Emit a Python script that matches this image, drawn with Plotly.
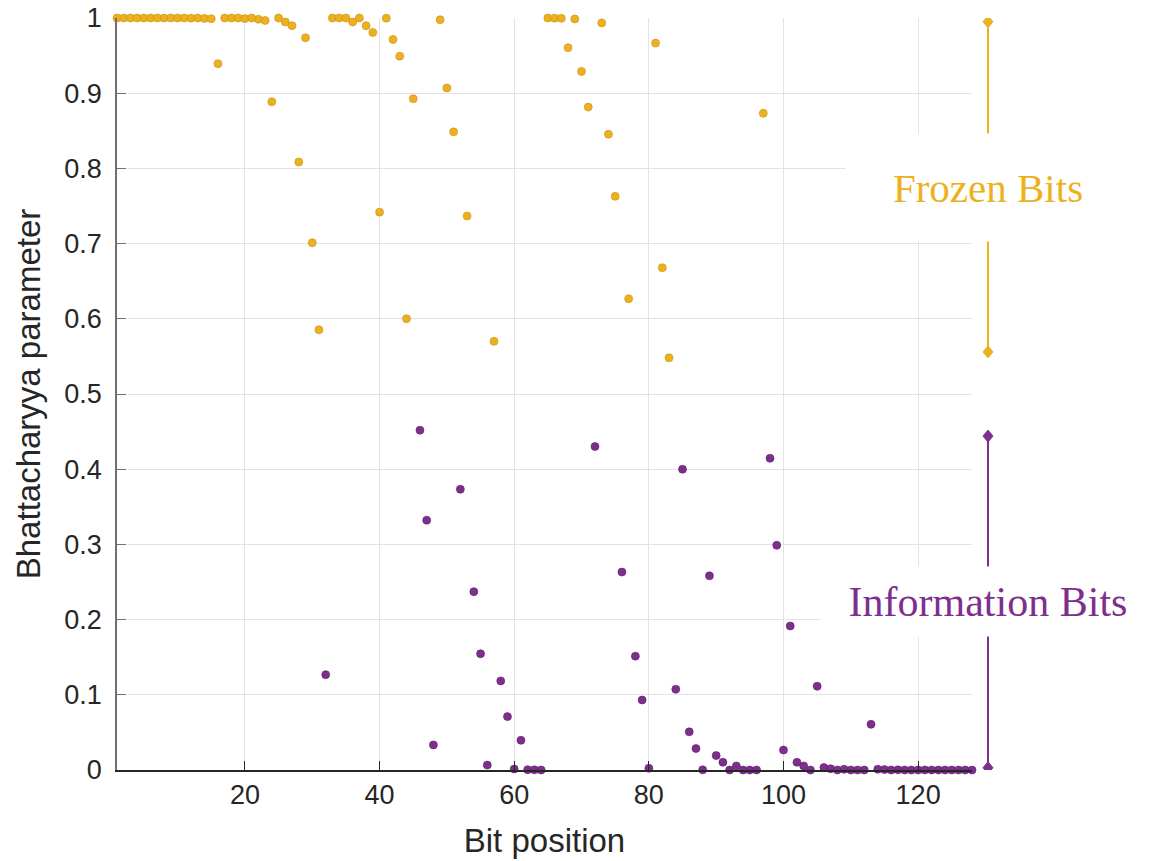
import plotly.graph_objects as go

# Bhattacharyya parameter of each synthetic channel, bit positions 1..128
bit_position = list(range(1, 129))
bhattacharyya = [
    1.0, 1.0, 1.0, 1.0, 1.0, 1.0, 1.0, 0.9999,
    1.0, 1.0, 1.0, 0.9998, 1.0, 0.9995, 0.9991, 0.9393,
    1.0, 1.0, 1.0, 0.9992, 1.0, 0.9983, 0.9967, 0.8886,
    1.0, 0.9947, 0.9898, 0.8085, 0.9736, 0.7012, 0.5854, 0.1268,
    1.0, 1.0, 1.0, 0.9947, 1.0, 0.9897, 0.9808, 0.7418,
    0.9998, 0.9715, 0.9492, 0.6001, 0.8926, 0.4519, 0.3321, 0.0334,
    0.9977, 0.9069, 0.8486, 0.3733, 0.7368, 0.2372, 0.1546, 0.0065,
    0.5700, 0.1185, 0.0710, 0.0013, 0.0395, 0.0004, 0.0002, 0.0,
    1.0, 0.9998, 0.9996, 0.9605, 0.9987, 0.9290, 0.8815, 0.4301,
    0.9935, 0.8454, 0.7628, 0.2632, 0.6267, 0.1514, 0.0931, 0.0023,
    0.9666, 0.6679, 0.5481, 0.1074, 0.3999, 0.0508, 0.0285, 0.0002,
    0.2582, 0.0192, 0.0103, 0.0, 0.0054, 0.0, 0.0, 0.0,
    0.8732, 0.4146, 0.2988, 0.0265, 0.1915, 0.0102, 0.0054, 0.0,
    0.1114, 0.0033, 0.0017, 0.0, 0.0009, 0.0, 0.0, 0.0,
    0.0607, 0.0010, 0.0005, 0.0, 0.0002, 0.0, 0.0, 0.0,
    0.0001, 0.0, 0.0, 0.0, 0.0, 0.0, 0.0, 0.0,
]
n_info = 64
x_ticks = [20, 40, 60, 80, 100, 120]
y_ticks = [0, 0.1, 0.2, 0.3, 0.4, 0.5, 0.6, 0.7, 0.8, 0.9, 1]
y_tick_text = ["0", "0.1", "0.2", "0.3", "0.4", "0.5", "0.6", "0.7", "0.8", "0.9", "1"]

ORANGE = "#EDB120"
PURPLE = "#7E2F8E"
TXT = "#262626"

# the n_info most reliable channels (smallest Z) carry information
order = sorted(range(len(bhattacharyya)), key=lambda i: bhattacharyya[i])
info_idx = sorted(order[:n_info])
frozen_idx = sorted(order[n_info:])

fig = go.Figure()
fig.add_trace(go.Scatter(
    x=[bit_position[i] for i in frozen_idx],
    y=[bhattacharyya[i] for i in frozen_idx],
    mode="markers", cliponaxis=False, showlegend=False,
    marker=dict(size=8, color=ORANGE, line=dict(width=0.6, color="#C98F10")),
))
fig.add_trace(go.Scatter(
    x=[bit_position[i] for i in info_idx],
    y=[bhattacharyya[i] for i in info_idx],
    mode="markers", cliponaxis=False, showlegend=False,
    marker=dict(size=8, color=PURPLE, line=dict(width=0.6, color="#5E1F6A")),
))

# range brackets to the right of the axes (paper x, data y)
BRACKET_X = 1.0187
diamond = "M0,6 L5,0 L0,-6 L-5,0 Z"
for (y_top, y_bot), col in [((0.995, 0.556), ORANGE), ((0.444, 0.003), PURPLE)]:
    fig.add_shape(type="line", xref="paper", yref="y",
                  x0=BRACKET_X, x1=BRACKET_X, y0=y_top, y1=y_bot,
                  line=dict(color=col, width=2))
    for yv in (y_top, y_bot):
        fig.add_shape(type="path", xref="paper", yref="y",
                      xsizemode="pixel", ysizemode="pixel",
                      xanchor=BRACKET_X, yanchor=yv, path=diamond,
                      fillcolor=col, line=dict(color=col, width=1))

label_font = "Liberation Serif"
fig.add_annotation(x=BRACKET_X, y=0.775, xref="paper", yref="y", text="Frozen Bits",
                   xanchor="center", yanchor="middle",
                   showarrow=False, bgcolor="white", width=282, height=105,
                   font=dict(family=label_font, size=41, color=ORANGE))
fig.add_annotation(x=BRACKET_X, y=0.2247, xref="paper", yref="y", text="Information Bits",
                   xanchor="center", yanchor="middle",
                   showarrow=False, bgcolor="white", width=332, height=67,
                   font=dict(family=label_font, size=42, color=PURPLE))

fig.update_layout(
    width=1149, height=861,
    margin=dict(l=117, r=177, t=18, b=91),
    paper_bgcolor="white", plot_bgcolor="white",
    font=dict(family="Liberation Sans, Arial, sans-serif", color=TXT),
)
fig.update_xaxes(
    range=[1, 128], tickvals=x_ticks, ticks="inside", ticklen=9, tickcolor=TXT,
    showline=True, linecolor=TXT, linewidth=1.5, zeroline=False, automargin=False,
    showgrid=True, gridcolor="#E3E3E3", gridwidth=1,
    tickfont=dict(size=27, color=TXT),
    title=dict(text="Bit position", font=dict(size=33, color=TXT), standoff=20),
)
fig.update_yaxes(
    range=[0, 1], tickvals=y_ticks, ticktext=y_tick_text, ticks="inside",
    ticklen=9, tickcolor="#707070", ticklabelstandoff=8,
    showline=True, linecolor="#707070", linewidth=1.5, zeroline=False, automargin=False,
    showgrid=True, gridcolor="#E3E3E3", gridwidth=1,
    tickfont=dict(size=27, color=TXT),
    title=dict(text="Bhattacharyya parameter", font=dict(size=33, color=TXT), standoff=14),
)

fig.write_html("out.html")
